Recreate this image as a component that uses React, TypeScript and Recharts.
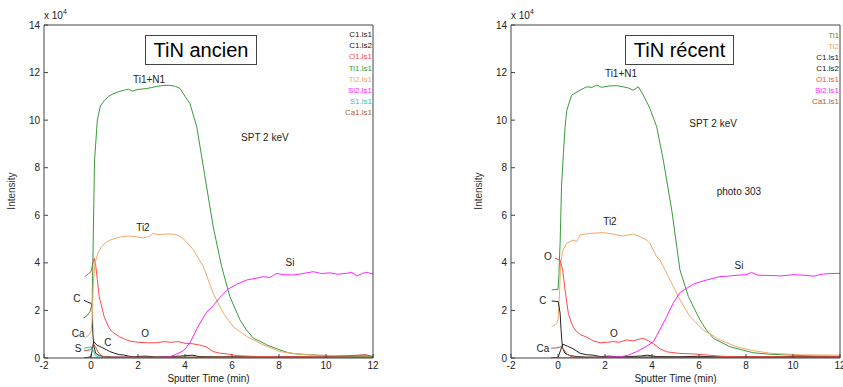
import React from 'react';
import { LineChart, Line, XAxis, YAxis, Legend, ReferenceDot } from 'recharts';

type Pt = [number, number];

// ---------- axes ----------
const xTicks = [-2, 0, 2, 4, 6, 8, 10, 12];
const yTicks = [0, 2, 4, 6, 8, 10, 12, 14];

// ---------- TiN ancien (values in x10^4 counts) ----------
const ancienC1ls1: Pt[] = [[-0.3, 2.43], [-0.15, 2.35], [0.0, 2.3], [0.05, 2.2], [0.08, 1.0], [0.12, 0.5], [0.2, 0.2], [0.35, 0.1], [0.6, 0.05], [1.0, 0.04], [2, 0.03], [4, 0.03], [6, 0.03], [8, 0.03], [10, 0.03], [12, 0.03]];
const ancienC1ls2: Pt[] = [[-0.3, 0.0], [0.0, 0.05], [0.08, 0.5], [0.12, 0.69], [0.24, 0.55], [0.45, 0.45], [0.67, 0.34], [0.8, 0.27], [0.95, 0.22], [1.2, 0.14], [1.38, 0.13], [1.6, 0.08], [1.8, 0.05], [2.3, 0.08], [2.8, 0.04], [3.3, 0.06], [3.8, 0.08], [4.3, 0.12], [4.6, 0.06], [5.5, 0.05], [6.5, 0.06], [7.5, 0.04], [8.5, 0.06], [9.5, 0.04], [10.5, 0.06], [11.5, 0.05], [12, 0.05]];
const ancienO1ls1: Pt[] = [[-0.26, 3.42], [-0.1, 3.55], [0.0, 3.63], [0.08, 4.0], [0.14, 4.19], [0.2, 3.9], [0.27, 3.3], [0.35, 2.58], [0.56, 1.74], [0.75, 1.3], [0.9, 1.1], [1.2, 0.9], [1.46, 0.78], [1.7, 0.7], [2.0, 0.66], [2.4, 0.64], [2.8, 0.64], [3.1, 0.69], [3.4, 0.66], [3.7, 0.69], [4.0, 0.62], [4.3, 0.6], [4.6, 0.55], [4.9, 0.47], [5.2, 0.27], [5.5, 0.2], [5.8, 0.17], [6.2, 0.1], [6.6, 0.08], [7.5, 0.05], [9, 0.05], [10.5, 0.04], [11.7, 0.12], [12, 0.05]];
const ancienTi1ls1: Pt[] = [[-0.33, 1.68], [-0.2, 1.75], [-0.04, 1.95], [0.05, 2.3], [0.08, 4.1], [0.12, 6.5], [0.15, 8.3], [0.27, 10.0], [0.4, 10.6], [0.58, 10.84], [0.75, 11.0], [0.93, 11.1], [1.2, 11.2], [1.42, 11.26], [1.6, 11.3], [1.75, 11.22], [2.0, 11.29], [2.3, 11.32], [2.58, 11.37], [2.8, 11.42], [3.1, 11.46], [3.35, 11.46], [3.6, 11.42], [3.79, 11.33], [4.0, 11.0], [4.21, 10.7], [4.5, 9.72], [4.85, 7.62], [5.2, 5.52], [5.56, 3.84], [5.91, 2.58], [6.34, 1.6], [6.6, 1.2], [6.91, 0.83], [7.2, 0.7], [7.48, 0.55], [8.04, 0.34], [8.4, 0.22], [8.75, 0.17], [9.45, 0.13], [10.0, 0.1], [11.0, 0.08], [12, 0.07]];
const ancienTi2ls1: Pt[] = [[-0.27, 0.85], [-0.1, 0.95], [0.0, 1.1], [0.05, 1.6], [0.1, 3.2], [0.17, 4.0], [0.3, 4.4], [0.45, 4.7], [0.6, 4.83], [0.8, 4.95], [1.03, 5.03], [1.3, 5.1], [1.6, 5.13], [1.9, 5.1], [2.2, 5.05], [2.45, 5.1], [2.65, 5.24], [2.85, 5.18], [3.1, 5.21], [3.4, 5.21], [3.6, 5.2], [3.8, 5.1], [4.0, 4.95], [4.36, 4.54], [4.78, 3.84], [5.2, 2.72], [5.63, 1.88], [6.06, 1.31], [6.63, 0.9], [7.33, 0.55], [8.04, 0.27], [8.75, 0.17], [9.5, 0.12], [10.5, 0.1], [12, 0.08]];
const ancienSi2ls1: Pt[] = [[-0.3, 0.0], [0.5, 0.02], [1.5, 0.03], [2.5, 0.02], [3.0, 0.03], [3.36, 0.05], [3.6, 0.15], [3.93, 0.3], [4.2, 0.62], [4.55, 1.31], [4.9, 1.9], [5.2, 2.2], [5.49, 2.55], [5.84, 2.9], [6.2, 3.1], [6.63, 3.28], [7.0, 3.35], [7.33, 3.42], [7.6, 3.38], [7.9, 3.56], [8.2, 3.5], [8.61, 3.49], [9.0, 3.55], [9.46, 3.63], [9.8, 3.55], [10.17, 3.58], [10.5, 3.52], [10.88, 3.56], [11.1, 3.6], [11.31, 3.45], [11.55, 3.56], [11.73, 3.6], [12, 3.53]];
const ancienS1ls1: Pt[] = [[-0.3, 0.41], [-0.1, 0.45], [0.0, 0.47], [0.1, 0.3], [0.2, 0.1], [0.35, 0.03], [1, 0.01], [3, 0.01], [6, 0.01], [9, 0.01], [12, 0.01]];
const ancienCa1ls1: Pt[] = [[-0.3, 0.3], [0.0, 0.35], [0.1, 0.6], [0.2, 0.45], [0.3, 0.25], [0.45, 0.08], [0.7, 0.03], [2, 0.04], [4, 0.03], [6, 0.05], [8, 0.03], [10, 0.04], [11.7, 0.14], [12, 0.04]];

// ---------- TiN récent ----------
const recentTi1: Pt[] = [[-0.27, 2.86], [0.0, 2.89], [0.04, 3.5], [0.06, 4.12], [0.09, 4.82], [0.15, 7.2], [0.23, 8.6], [0.3, 9.7], [0.37, 10.4], [0.58, 11.05], [0.94, 11.26], [1.22, 11.4], [1.45, 11.38], [1.65, 11.47], [1.85, 11.38], [2.21, 11.44], [2.5, 11.45], [2.78, 11.4], [3.0, 11.35], [3.2, 11.26], [3.42, 11.4], [3.6, 11.1], [3.77, 10.77], [3.91, 10.5], [4.2, 9.72], [4.48, 8.32], [4.84, 6.22], [5.19, 3.7], [5.55, 2.58], [6.04, 1.6], [6.3, 1.2], [6.61, 0.83], [7.32, 0.47], [8.31, 0.22], [9.0, 0.16], [9.73, 0.13], [10.5, 0.1], [11.15, 0.08], [12, 0.07]];
const recentTi2: Pt[] = [[-0.27, 1.31], [-0.06, 1.45], [0.0, 1.6], [0.06, 2.58], [0.11, 3.97], [0.2, 4.5], [0.37, 4.82], [0.65, 4.96], [0.8, 4.9], [0.94, 5.17], [1.36, 5.24], [1.93, 5.27], [2.35, 5.21], [2.6, 5.15], [2.78, 5.13], [3.0, 5.18], [3.2, 5.21], [3.5, 5.1], [3.77, 4.96], [3.91, 4.82], [4.2, 4.26], [4.34, 4.12], [4.77, 3.28], [5.19, 2.44], [5.62, 1.74], [6.18, 1.18], [6.89, 0.76], [7.6, 0.47], [8.31, 0.31], [9.02, 0.2], [10.4, 0.13], [12, 0.12]];
const recentC1ls1: Pt[] = [[-0.27, 2.4], [0.01, 2.37], [0.09, 1.88], [0.13, 1.2], [0.16, 0.76], [0.2, 0.4], [0.3, 0.2], [0.5, 0.1], [0.8, 0.06], [1.2, 0.04], [2, 0.03], [4, 0.04], [6, 0.03], [8, 0.04], [10, 0.03], [12, 0.04]];
const recentC1ls2: Pt[] = [[-0.3, 0.0], [0.0, 0.02], [0.1, 0.3], [0.2, 0.58], [0.4, 0.5], [0.65, 0.38], [0.94, 0.2], [1.2, 0.14], [1.5, 0.12], [1.8, 0.06], [2.2, 0.08], [2.6, 0.04], [3.0, 0.06], [3.5, 0.08], [3.8, 0.12], [4.2, 0.06], [5, 0.05], [6, 0.07], [7, 0.04], [8, 0.06], [9, 0.05], [10, 0.06], [11, 0.05], [12, 0.05]];
const recentO1ls1: Pt[] = [[-0.13, 4.19], [0.09, 4.12], [0.2, 3.7], [0.3, 2.86], [0.44, 1.88], [0.58, 1.45], [0.72, 1.18], [0.95, 0.98], [1.22, 0.88], [1.5, 0.72], [1.79, 0.64], [2.1, 0.66], [2.35, 0.69], [2.6, 0.66], [2.92, 0.76], [3.2, 0.72], [3.45, 0.79], [3.63, 0.83], [3.85, 0.72], [4.06, 0.6], [4.35, 0.38], [4.63, 0.26], [5.19, 0.19], [5.6, 0.18], [6.04, 0.15], [6.5, 0.11], [6.89, 0.08], [7.5, 0.05], [9, 0.05], [10.5, 0.04], [12, 0.05]];
const recentSi2ls1: Pt[] = [[-0.3, 0.0], [0.5, 0.01], [1.5, 0.02], [2.64, 0.05], [3.0, 0.12], [3.35, 0.27], [3.7, 0.45], [4.06, 0.68], [4.34, 1.2], [4.63, 1.75], [4.9, 2.3], [5.19, 2.75], [5.5, 2.95], [5.76, 3.1], [6.05, 3.2], [6.33, 3.28], [6.89, 3.42], [7.3, 3.45], [7.74, 3.49], [8.0, 3.5], [8.24, 3.6], [8.5, 3.48], [9.0, 3.47], [9.45, 3.45], [10.0, 3.5], [10.3, 3.49], [10.6, 3.47], [10.9, 3.44], [11.1, 3.5], [11.29, 3.53], [11.6, 3.55], [12, 3.56]];
const recentCa1ls1: Pt[] = [[-0.3, 0.41], [-0.1, 0.42], [0.05, 0.45], [0.15, 0.47], [0.25, 0.35], [0.4, 0.15], [0.6, 0.05], [1, 0.03], [3, 0.03], [6, 0.03], [9, 0.03], [12, 0.03]];

// ---------- colours ----------
const BLACK = '#222222';
const RED = '#ff4a4a';
const GREEN = '#3a9a3a';
const PEACH = '#f2a866';
const MAGENTA = '#ff22ff';
const CYAN = '#22c8c8';
const BROWN = '#b0603a';

type Series = { name: string; color: string; pts: Pt[] };

const ancienSeries: Series[] = [
  { name: 'C1.ls1', color: BLACK, pts: ancienC1ls1 },
  { name: 'C1.ls2', color: BLACK, pts: ancienC1ls2 },
  { name: 'O1.ls1', color: RED, pts: ancienO1ls1 },
  { name: 'Ti1.ls1', color: GREEN, pts: ancienTi1ls1 },
  { name: 'Ti2.ls1', color: PEACH, pts: ancienTi2ls1 },
  { name: 'Si2.ls1', color: MAGENTA, pts: ancienSi2ls1 },
  { name: 'S1.ls1', color: CYAN, pts: ancienS1ls1 },
  { name: 'Ca1.ls1', color: BROWN, pts: ancienCa1ls1 },
];

const recentSeries: Series[] = [
  { name: 'Ti1', color: GREEN, pts: recentTi1 },
  { name: 'Ti2', color: PEACH, pts: recentTi2 },
  { name: 'C1.ls1', color: BLACK, pts: recentC1ls1 },
  { name: 'C1.ls2', color: BLACK, pts: recentC1ls2 },
  { name: 'O1.ls1', color: RED, pts: recentO1ls1 },
  { name: 'Si2.ls1', color: MAGENTA, pts: recentSi2ls1 },
  { name: 'Ca1.ls1', color: BROWN, pts: recentCa1ls1 },
];

type Note = { text: string; t: number; v: number };

const ancienNotes: Note[] = [
  { text: 'Ti1+N1', t: 2.47, v: 11.73 },
  { text: 'SPT 2 keV', t: 7.4, v: 9.29 },
  { text: 'Ti2', t: 2.21, v: 5.5 },
  { text: 'Si', t: 8.47, v: 4.0 },
  { text: 'O', t: 2.3, v: 1.05 },
  { text: 'C', t: -0.6, v: 2.52 },
  { text: 'Ca', t: -0.55, v: 1.05 },
  { text: 'S', t: -0.55, v: 0.42 },
  { text: 'C', t: 0.72, v: 0.67 },
];

const recentNotes: Note[] = [
  { text: 'Ti1+N1', t: 2.68, v: 11.98 },
  { text: 'SPT 2 keV', t: 6.6, v: 9.87 },
  { text: 'photo 303', t: 7.7, v: 7.02 },
  { text: 'Ti2', t: 2.21, v: 5.72 },
  { text: 'Si', t: 7.7, v: 3.87 },
  { text: 'O', t: -0.43, v: 4.29 },
  { text: 'C', t: -0.64, v: 2.4 },
  { text: 'Ca', t: -0.64, v: 0.42 },
  { text: 'O', t: 2.38, v: 1.05 },
];

const FONT = 'Arial, "Liberation Sans", sans-serif';
const AXIS = '#444444';

type PanelProps = {
  left: number;
  title: string;
  titleLeft: number;
  titleWidth: number;
  series: Series[];
  notes: Note[];
  margin: { top: number; right: number; bottom: number; left: number };
  legendRight: number;
  legendTop: number;
  legendLine: number;
  plotLeft: number;
};

const Panel = (p: PanelProps) => {
  const order = p.series.map((s) => s.name + '|' + s.color);
  const legendContent = (props: any) => {
    const items = [...(props.payload || [])].sort(
      (a: any, b: any) => order.indexOf(a.value + '|' + a.color) - order.indexOf(b.value + '|' + b.color)
    );
    return (
      <div style={{ textAlign: 'right', fontSize: 8, lineHeight: p.legendLine + 'px', fontFamily: FONT }}>
        {items.map((it: any, i: number) => (
          <div key={i} style={{ color: it.color }}>{it.value}</div>
        ))}
      </div>
    );
  };
  return (
    <div style={{ position: 'absolute', left: p.left, top: 0, width: 420, height: 387 }}>
      <LineChart width={420} height={387} margin={p.margin} style={{ fontFamily: FONT }}>
        <XAxis
          xAxisId={0}
          dataKey="t"
          type="number"
          domain={[-2, 12]}
          ticks={xTicks}
          interval={0}
          allowDataOverflow
          height={20}
          stroke={AXIS}
          tickSize={-4}
          tickMargin={8}
          tick={{ fontSize: 10, fill: '#222' }}
          label={{ value: 'Sputter Time (min)', position: 'bottom', offset: -3, fontSize: 10, fill: '#222' }}
        />
        <XAxis
          xAxisId="top"
          orientation="top"
          type="number"
          domain={[-2, 12]}
          ticks={xTicks}
          interval={0}
          height={1}
          stroke={AXIS}
          tickSize={-4}
          tickFormatter={() => ''}
        />
        <YAxis
          yAxisId={0}
          type="number"
          domain={[0, 14]}
          ticks={yTicks}
          interval={0}
          allowDataOverflow
          width={30}
          stroke={AXIS}
          tickSize={-4}
          tickMargin={8}
          tick={{ fontSize: 10, fill: '#222' }}
        />
        <YAxis
          yAxisId="r"
          orientation="right"
          type="number"
          domain={[0, 14]}
          ticks={yTicks}
          interval={0}
          width={1}
          stroke={AXIS}
          tickSize={-4}
          tickFormatter={() => ''}
        />
        <Legend
          layout="horizontal"
          verticalAlign="middle"
          align="center"
          content={legendContent}
          wrapperStyle={{ position: 'absolute', top: p.legendTop, right: p.legendRight, left: 'auto', bottom: 'auto', width: 'auto', height: 'auto' }}
        />
        {p.series.map((s, i) => (
          <Line
            key={i}
            data={s.pts.map(([t, v]) => ({ t, v }))}
            dataKey="v"
            name={s.name}
            stroke={s.color}
            strokeWidth={1}
            dot={false}
            activeDot={false}
            type="linear"
            isAnimationActive={false}
          />
        ))}
        {p.notes.map((n, i) => (
          <ReferenceDot
            key={'n' + i}
            x={n.t}
            y={n.v}
            r={0}
            fill="none"
            stroke="none"
            label={{ value: n.text, position: 'center', fontSize: 10, fill: '#222', fontFamily: FONT }}
          />
        ))}
      </LineChart>
      <div
        style={{
          position: 'absolute', left: p.titleLeft, top: 35, width: p.titleWidth, height: 30,
          border: '1px solid #444', boxSizing: 'border-box', background: '#fff',
          display: 'flex', alignItems: 'center', justifyContent: 'center',
          fontSize: 20, fontFamily: FONT, color: '#000',
        }}
      >
        {p.title}
      </div>
      <div style={{ position: 'absolute', left: p.plotLeft, top: 11, fontSize: 10, lineHeight: '10px', fontFamily: FONT, color: '#222', whiteSpace: 'nowrap' }}>
        x 10<span style={{ fontSize: 7, position: 'relative', top: -5 }}>4</span>
      </div>
      <div
        style={{
          position: 'absolute', left: p.plotLeft - 33, top: 191, fontSize: 10, fontFamily: FONT, color: '#333',
          transform: 'translate(-50%, -50%) rotate(-90deg)', whiteSpace: 'nowrap',
        }}
      >
        Intensity
      </div>
    </div>
  );
};

export default function App() {
  return (
    <div style={{ position: 'absolute', left: 0, top: 0, width: 843, height: 387, background: '#fff', overflow: 'hidden', fontFamily: FONT }}>
      <Panel
        left={0}
        title="TiN ancien"
        titleLeft={145}
        titleWidth={112}
        series={ancienSeries}
        notes={ancienNotes}
        margin={{ top: 24, right: 46, bottom: 9, left: 14 }}
        legendRight={48}
        legendTop={29}
        legendLine={11.2}
        plotLeft={44}
      />
      <Panel
        left={423}
        title="TiN récent"
        titleLeft={202}
        titleWidth={109}
        series={recentSeries}
        notes={recentNotes}
        margin={{ top: 24, right: 2, bottom: 9, left: 58 }}
        legendRight={4}
        legendTop={30}
        legendLine={11}
        plotLeft={88}
      />
    </div>
  );
}
